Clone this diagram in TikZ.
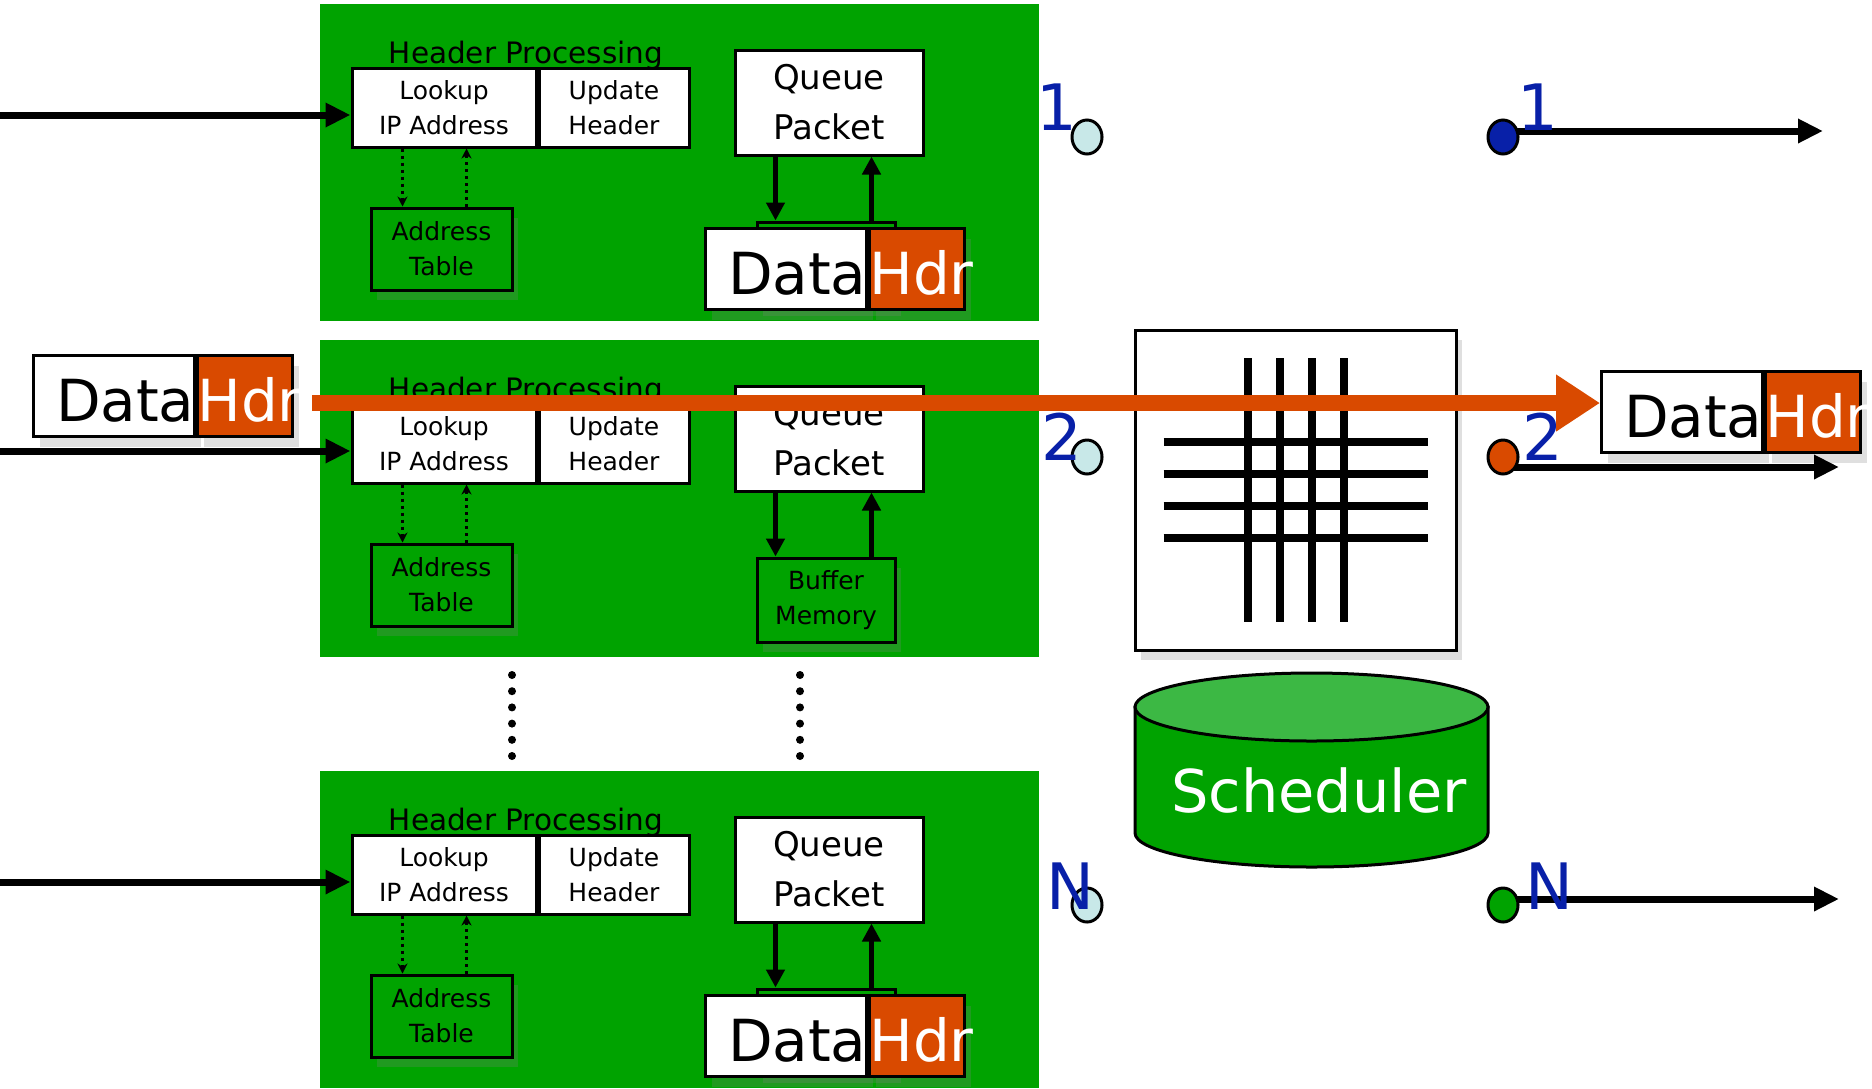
\documentclass[tikz,border=0pt]{standalone}
\usepackage{fontspec}
\setmainfont{DejaVu Sans}
\usetikzlibrary{positioning,shapes.geometric,shadows,arrows.meta}

\definecolor{blockgreen}{RGB}{0,163,0}
\definecolor{hdrorange}{RGB}{217,74,0}
\definecolor{portblue}{RGB}{8,32,168}
\definecolor{portcyan}{RGB}{200,232,232}
\definecolor{schedtop}{RGB}{60,184,68}

\newcommand\hpfont{\fontsize{14.75}{17}\selectfont}
\newcommand\boxfont{\fontsize{12.5}{17.5}\selectfont}
\newcommand\qfont{\fontsize{17}{25}\selectfont}
\newcommand\dhfont{\fontsize{29}{32}\selectfont}
\newcommand\schfont{\fontsize{29.5}{34}\selectfont}
\newcommand\portfont{\fontsize{32}{36}\selectfont}

\begin{document}
\begin{tikzpicture}[x=0.5pt,y=-0.5pt,
    cell/.style={draw,line width=1.5pt,fill=white,inner sep=0pt,align=center},
    shadowed/.style={drop shadow={fill=gray,opacity=0.25,shadow xshift=3pt,shadow yshift=-5pt}},
    inarrow/.style={line width=3.5pt,-{Triangle[length=12.5pt,width=11.5pt]}},
    qarrow/.style={line width=2.25pt,-{Triangle[length=9pt,width=9pt]}},
    dotarrow/.style={line width=1.3pt,dash pattern=on 1.5pt off 2pt,-{Stealth[length=5pt,width=5pt]}},
    databox/.style={cell,shadowed,minimum width=80.5pt,minimum height=40.5pt,text width=80.5pt,
      align=right,font=\dhfont,text height=25pt,text depth=0pt},
    hdrbox/.style={cell,shadowed,fill=hdrorange,text=white,minimum width=47.5pt,minimum height=40.5pt,
      text width=47.5pt,align=left,font=\dhfont,text height=25pt,text depth=0pt},
    portdot/.style={ellipse,draw,line width=1.5pt,inner sep=0pt,minimum width=15pt,minimum height=17pt},
    portlabel/.style={font=\portfont,text=portblue,inner sep=0pt}]
  \useasboundingbox (0,0) rectangle (1872,1088);

  % line cards
  \foreach \i/\off/\buftext in {1/0/{},2/336/{Buffer\\Memory},3/767/{}}{
    \fill[blockgreen] (320,4+\off) rectangle (1039,321+\off);
    \node[font=\hpfont,anchor=base,inner sep=0pt] (hp\i) at (526,63+\off) {Header Processing};
    \node[cell,minimum width=92pt,minimum height=39.5pt,font=\boxfont] (look\i) at (444,107.5+\off) {Lookup\\IP Address};
    \node[cell,minimum width=75pt,minimum height=39.5pt,font=\boxfont,right=0pt of look\i] (upd\i) {Update\\Header};
    \node[cell,fill=blockgreen,shadowed,minimum width=70.5pt,minimum height=41pt,font=\boxfont] (addr\i) at (441.5,249+\off) {Address\\Table};
    \node[cell,minimum width=94pt,minimum height=52.5pt,font=\qfont] (queue\i) at (829,102.5+\off) {Queue\\Packet};
    \node[cell,fill=blockgreen,shadowed,minimum width=69pt,minimum height=42pt,font=\boxfont] (buf\i) at (826,264+\off) {\buftext};
    \coordinate (in\i) at (0,115+\off);
    \draw[inarrow] (in\i) -- (in\i -| look\i.west);
    \draw[dotarrow] ([xshift=26pt]look\i.south west) -- ([xshift=16.5pt]addr\i.north west);
    \draw[dotarrow] ([xshift=48.5pt]addr\i.north west) -- ([xshift=58pt]look\i.south west);
    \draw[qarrow] ([xshift=21pt]queue\i.south west) -- ([xshift=10pt]buf\i.north west);
    \draw[qarrow] ([xshift=58pt]buf\i.north west) -- ([xshift=69pt]queue\i.south west);
  }

  \foreach \x in {512,800}
    \foreach \k in {0,...,5}
      \fill (\x,675+16.2*\k) circle[radius=2pt];

  % packets
  \foreach \n/\x/\y in {a/704/227,c/704/994,l/32/354,r/1600/370}{
    \node[databox,anchor=north west] (data\n) at (\x,\y) {Data};
    \node[hdrbox,right=0pt of data\n] (hdr\n) {Hdr};
  }

  % crossbar
  \node[draw,line width=1.5pt,fill=white,shadowed,minimum width=160.5pt,minimum height=160pt] (xbar) at (1295.5,490) {};
  \foreach \d in {-24,-8,8,24}{
    \draw[line width=4pt] ([xshift=\d pt,yshift=66pt]xbar.center) -- ([xshift=\d pt,yshift=-66pt]xbar.center);
    \draw[line width=4pt] ([yshift=\d pt,xshift=-66pt]xbar.center) -- ([yshift=\d pt,xshift=66pt]xbar.center);
  }

  % scheduler
  \draw[line width=1.5pt,fill=blockgreen] (1135,707) -- (1135,833)
    arc[start angle=180,end angle=360,x radius=88.25pt,y radius=17pt] -- (1488,707) -- cycle;
  \draw[line width=1.5pt,fill=schedtop] (1311.5,707) ellipse[x radius=88.25pt,y radius=17pt];
  \node[font=\schfont,text=white,inner sep=0pt] (sched) at (1319,790) {Scheduler};

  % ports
  \coordinate (oend1) at (1823,131);
  \coordinate (oend2) at (1839,467);
  \coordinate (oendN) at (1839,899);
  \foreach \p/\y/\c in {1/137/portblue,2/457/hdrorange,N/905/blockgreen}{
    \node[portdot,fill=portcyan] (pin\p) at (1087,\y) {};
    \draw[inarrow] (pin\p |- oend\p) ++(416,0) coordinate (ostart\p) -- (oend\p);
    \node[portdot,fill=\c] (pout\p) at (1503,\y) {};
  }
  \node[portlabel] (lin1) at (1057,107) {1};
  \node[portlabel] (lin2) at (1062,437) {2};
  \node[portlabel] (linN) at (1070,886) {N};
  \node[portlabel] (lout1) at (1538,107) {1};
  \node[portlabel] (lout2) at (1543,437) {2};
  \node[portlabel] (loutN) at (1549,886) {N};

  % packet path
  \coordinate (ostart) at (312,403);
  \draw[line width=8pt,hdrorange,-{Triangle[length=22pt,width=27pt]}] (ostart) -- (ostart -| datar.west);
\end{tikzpicture}
\end{document}
